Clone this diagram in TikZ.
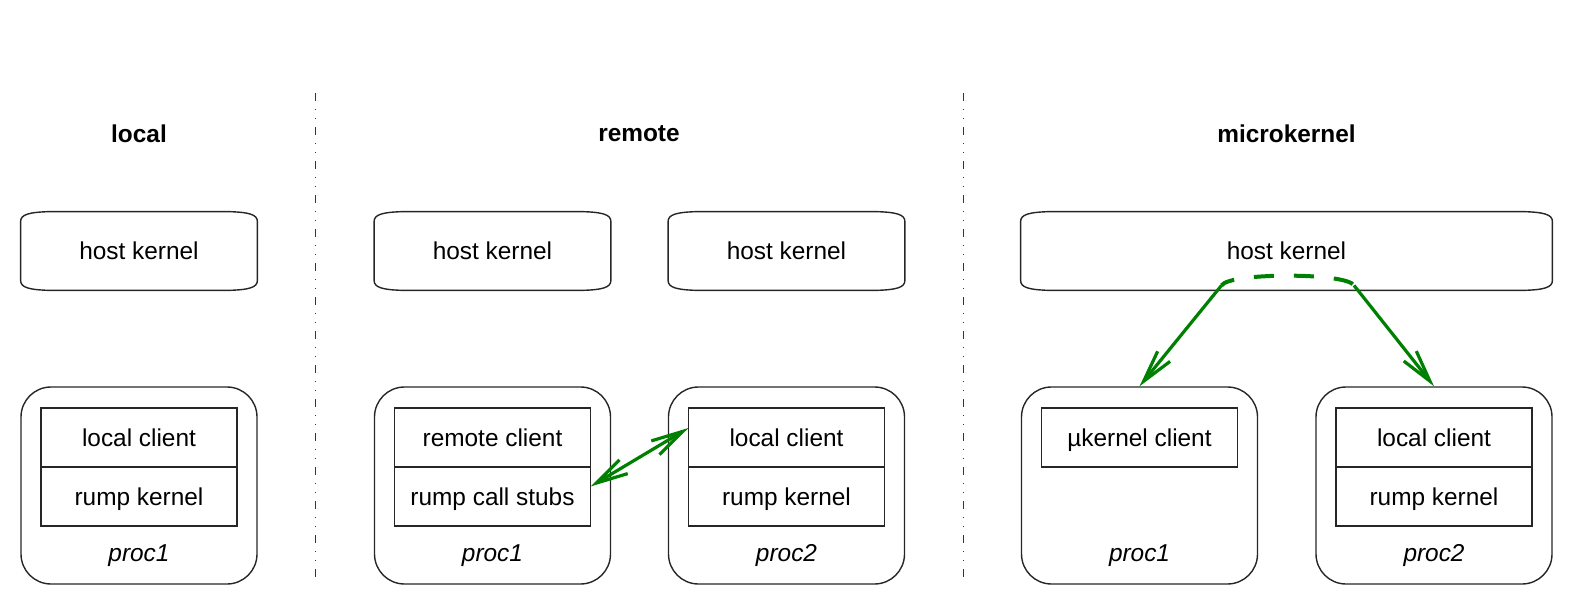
\documentclass[tikz,border=0pt]{standalone}
\usepackage{fontspec}
\setmainfont{Liberation Sans}
\usetikzlibrary{positioning, calc, arrows.meta}
\definecolor{linkgreen}{RGB}{0,128,0}
\tikzstyle{Link} = [
%Green connector style:
line width = 1.6pt,
draw = linkgreen,
> = {Straight Barb[length = 16pt, width = 8pt]}
]
\tikzstyle{Divider} = [
line width = 0.5pt, draw = black!80,
dash pattern = on 4pt off 4pt on 0.5pt off 4pt on 0.5pt off 4pt
]
% outline of a host kernel node (bowed top and bottom)
\newcommand{\hostoutline}[1]{
\draw[line width = 0.7pt, black!85]
($(#1.north west)+(0,10)$) .. controls ($(#1.north west)+(0,3)$) and ($(#1.north west)+(8,0.5)$) .. ($(#1.north west)+(30,0)$)
-- ($(#1.north east)+(-30,0)$) .. controls ($(#1.north east)+(-8,0.5)$) and ($(#1.north east)+(0,3)$) .. ($(#1.north east)+(0,10)$)
-- ($(#1.south east)+(0,-10)$) .. controls ($(#1.south east)+(0,-3)$) and ($(#1.south east)+(-8,-0.5)$) .. ($(#1.south east)+(-30,0)$)
-- ($(#1.south west)+(30,0)$) .. controls ($(#1.south west)+(8,-0.5)$) and ($(#1.south west)+(0,-3)$) .. ($(#1.south west)+(0,-10)$)
-- cycle;
}

\begin{document}
\fontsize{12.2}{14.6}\selectfont
\begin{tikzpicture}[
x = 0.5pt, y = -0.5pt,
proc/.style = {rectangle, rounded corners = 15pt, draw, line width = 0.7pt, black!85, text = black, minimum width = 118pt, minimum height = 98.5pt},
kernel/.style = {rectangle, minimum width = 118pt, minimum height = 39pt, text height = 8.8pt, text depth = 0.3pt},
cell/.style = {rectangle, draw, line width = 0.7pt, black!85, text = black, outer sep = 0pt, minimum width = 98pt, minimum height = 29.5pt, text height = 8.8pt, text depth = 0.3pt},
title/.style = {font = \bfseries},
procname/.style = {font = \itshape, text height = 8.8pt, text depth = 0.3pt},
]
\useasboundingbox (0,0) rectangle (1578,609);

% section titles
\node[title](Tl) at (139,134){local};
\node[title](Tr) at (639,134){remote};
\node[title](Tm) at (1286.5,134){microkernel};

\draw[Divider] (315,93) -- (315,581);
\draw[Divider] (963,93) -- (963,581);

% host kernels
\node[kernel](HKl) at (139,251){host kernel};
\node[kernel](HKr1) at (492.5,251){host kernel};
\node[kernel](HKr2) at (786.5,251){host kernel};
\node[kernel, minimum width = 265.5pt](HKm) at (1286.5,251){host kernel};
\hostoutline{HKl}
\hostoutline{HKr1}
\hostoutline{HKr2}
\hostoutline{HKm}

% processes
\node[proc](Pl) at (139,485.5){};
\node[proc](Pr1) at (492.5,485.5){};
\node[proc](Pr2) at (786.5,485.5){};
\node[proc](Pm1) at (1139.5,485.5){};
\node[proc](Pm2) at (1434,485.5){};

\node[cell](LCl) at (139,437.5){local client};
\node[cell, below = 0pt of LCl](RKl){rump kernel};
\node[cell](RCr1) at (492.5,437.5){remote client};
\node[cell, below = 0pt of RCr1](STr1){rump call stubs};
\node[cell](LCr2) at (786.5,437.5){local client};
\node[cell, below = 0pt of LCr2](RKr2){rump kernel};
\node[cell](UCm1) at (1139.5,437.5){µkernel client};
\node[cell](LCm2) at (1434,437.5){local client};
\node[cell, below = 0pt of LCm2](RKm2){rump kernel};

\node[procname](Nl) at (139,553){proc1};
\node[procname](Nr1) at (492.5,553){proc1};
\node[procname](Nr2) at (786.5,553){proc2};
\node[procname](Nm1) at (1139.5,553){proc1};
\node[procname](Nm2) at (1434,553){proc2};

% connectors
\draw[Link, <->]([yshift = 5pt]STr1.east)--([yshift = 4.75pt]LCr2.west);

\coordinate(forkL) at ($(HKm.south)+(-65,-5)$);
\coordinate(forkR) at ($(HKm.south)+(67.5,-5)$);
\draw[Link, line width = 2pt, dash pattern = on 10pt off 10pt, dash phase = 3pt](forkL) .. controls +(8,-13) and +(-8,-13) .. (forkR);
\draw[Link, ->](forkL)--(Pm1.north);
\draw[Link, ->](forkR)--(Pm2.north);

\end{tikzpicture}
\end{document}
